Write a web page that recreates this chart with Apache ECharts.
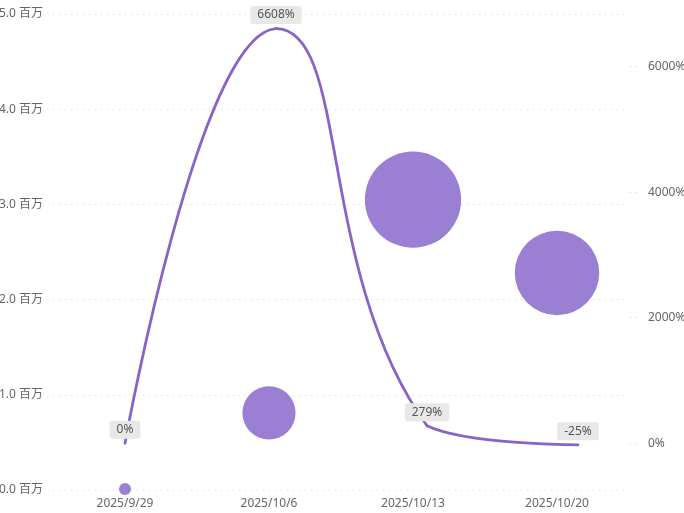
<!DOCTYPE html>
<html lang="zh">
<head>
<meta charset="utf-8" />
<title>周度金额与环比</title>
<style>
  html, body { margin: 0; padding: 0; background: #fff; }
  #main { width: 684px; height: 513px; }
</style>
</head>
<body>
<div id="main"></div>
<script src="https://cdn.jsdelivr.net/npm/echarts@6/dist/echarts.min.js"></script>
<script>
// data
var weeks = ['2025/9/29', '2025/10/6', '2025/10/13', '2025/10/20'];
var amounts = [10000, 810000, 3050000, 2280000];   // left axis, bubbles
var growth = [0, 6608, 279, -25];                   // right axis, %, line
var growthTicks = [0, 2000, 4000, 6000];

var textFont = '"Noto Sans", "Noto Sans CJK SC", sans-serif';
var lineColor = '#8a63c9';
var smooth = 0.5;
var chart = echarts.init(document.getElementById('main'));

// smoothed segment, control points kept inside the points' bounding box
function renderCurve(params, api) {
    var i = params.dataIndex;
    if (i >= growth.length - 1) return null;
    var pts = growth.map(function (g, k) { return api.coord([k, g]); });
    var minX = Infinity, minY = Infinity, maxX = -Infinity, maxY = -Infinity;
    pts.forEach(function (p) {
        minX = Math.min(minX, p[0]); maxX = Math.max(maxX, p[0]);
        minY = Math.min(minY, p[1]); maxY = Math.max(maxY, p[1]);
    });
    function clamp(p) {
        return [Math.min(maxX, Math.max(minX, p[0])), Math.min(maxY, Math.max(minY, p[1]))];
    }
    function cps(k) {
        var p = pts[k];
        if (k === 0 || k === pts.length - 1) return [p, p];
        var a = pts[k - 1], b = pts[k + 1];
        var vx = (b[0] - a[0]) * smooth, vy = (b[1] - a[1]) * smooth;
        var d0 = Math.hypot(p[0] - a[0], p[1] - a[1]);
        var d1 = Math.hypot(p[0] - b[0], p[1] - b[1]);
        var s = d0 + d1;
        d0 /= s; d1 /= s;
        return [clamp([p[0] - vx * d0, p[1] - vy * d0]), clamp([p[0] + vx * d1, p[1] + vy * d1])];
    }
    var c1 = cps(i)[1], c2 = cps(i + 1)[0];
    return {
        type: 'bezierCurve',
        shape: {
            x1: pts[i][0], y1: pts[i][1],
            cpx1: c1[0], cpy1: c1[1],
            cpx2: c2[0], cpy2: c2[1],
            x2: pts[i + 1][0], y2: pts[i + 1][1]
        },
        style: { stroke: lineColor, lineWidth: 2.8, fill: null, lineCap: 'round' }
    };
}

chart.setOption({
    animation: false,
    textStyle: { fontFamily: textFont },
    grid: [
        { left: 53, right: 55, top: 14, bottom: 23, outerBoundsMode: 'none', containLabel: false },
        { left: 125, right: 106, top: 14, bottom: 23, outerBoundsMode: 'none', containLabel: false }
    ],
    xAxis: [
        {
            type: 'category',
            gridIndex: 0,
            data: weeks,
            boundaryGap: true,
            axisLine: { show: false },
            axisTick: { show: false },
            axisLabel: { color: '#666', fontSize: 12, margin: 8 }
        },
        {
            type: 'category',
            gridIndex: 1,
            data: weeks,
            boundaryGap: false,
            show: false
        }
    ],
    yAxis: [
        {
            type: 'value',
            gridIndex: 0,
            min: 0,
            max: 5000000,
            interval: 1000000,
            axisLine: { show: false },
            axisTick: { show: false },
            axisLabel: {
                color: '#666',
                fontSize: 12,
                margin: 10,
                formatter: function (v) { return (v / 1000000).toFixed(1) + ' 百万'; }
            },
            splitLine: { lineStyle: { color: '#d6d6d6', type: [1, 5] } }
        },
        {
            type: 'value',
            gridIndex: 1,
            position: 'right',
            offset: 52,
            min: -745,
            max: 6840,
            axisLine: { show: false },
            axisTick: {
                show: true,
                length: 8,
                customValues: growthTicks,
                lineStyle: { color: '#cfcfcf', type: [1, 4] }
            },
            axisLabel: {
                color: '#666',
                fontSize: 12,
                margin: 18,
                customValues: growthTicks,
                formatter: function (v) { return v + '%'; }
            },
            splitLine: { show: false }
        }
    ],
    series: [
        {
            type: 'scatter',
            xAxisIndex: 0,
            yAxisIndex: 0,
            data: amounts,
            symbolSize: function (v) {
                return Math.max(12, 58.4 * Math.pow(v / 1000000, 0.448));
            },
            itemStyle: { color: '#9b7fd3', opacity: 1 },
            z: 2
        },
        {
            type: 'custom',
            xAxisIndex: 1,
            yAxisIndex: 1,
            data: growth,
            renderItem: renderCurve,
            clip: false,
            silent: true,
            z: 3
        },
        {
            // labels only
            type: 'line',
            xAxisIndex: 1,
            yAxisIndex: 1,
            data: growth,
            showSymbol: true,
            symbol: 'circle',
            symbolSize: 1,
            itemStyle: { color: 'rgba(0,0,0,0)' },
            lineStyle: { opacity: 0 },
            label: {
                show: true,
                position: 'top',
                distance: 4,
                formatter: function (p) { return p.value + '%'; },
                color: '#555',
                fontSize: 12,
                backgroundColor: '#e8e8e8',
                borderRadius: 3,
                padding: [3, 7]
            },
            z: 4
        }
    ]
});
</script>
</body>
</html>
